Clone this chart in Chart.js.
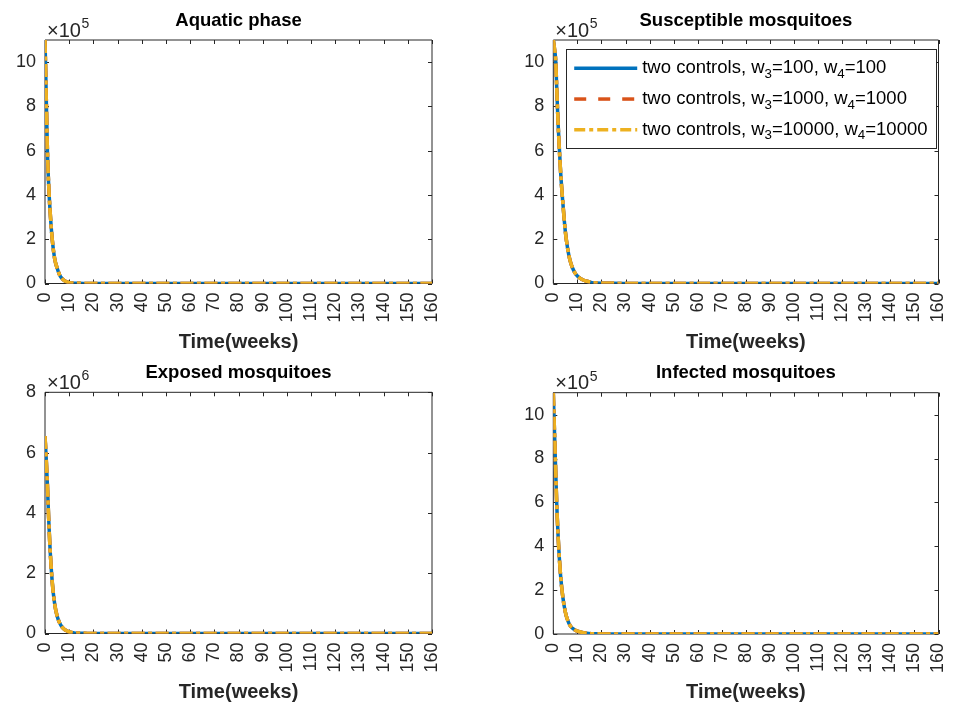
<!DOCTYPE html>
<html lang="en">
<head>
<meta charset="UTF-8">
<title>Two controls</title>
<script src="https://cdn.jsdelivr.net/npm/chart.js"></script>
<style>
  body { margin: 0; background: #fff; }
  #wrap { position: relative; width: 955px; height: 706px; }
  .cell { position: absolute; height: 353px; }
</style>
</head>
<body>
<div id="wrap">
  <div class="cell" style="left:0;top:0;width:477px"><canvas id="c1"></canvas></div>
  <div class="cell" style="left:477px;top:0;width:478px"><canvas id="c2"></canvas></div>
  <div class="cell" style="left:0;top:353px;width:477px"><canvas id="c3"></canvas></div>
  <div class="cell" style="left:477px;top:353px;width:478px"><canvas id="c4"></canvas></div>
</div>
<script>
// time in weeks
const weeks = [0, 0.5, 1, 1.5, 2, 3, 4, 5, 6, 7, 8, 9, 10, 12, 14, 16, 18, 20, 25, 30,
  40, 50, 60, 70, 80, 90, 100, 110, 120, 130, 140, 150, 160];

// values (the three control runs lie on top of each other)
// aquatic phase, x10^5
const aquatic = [11, 8.5, 6.0, 4.5, 3.45, 1.98, 1.12, 0.7, 0.4, 0.23, 0.13, 0.07, 0.04, 0.015, 0.008,
  0.005, 0.004, 0.003, 0.002, 0.002, 0.001, 0.001, 0.001, 0.001, 0, 0, 0, 0, 0, 0, 0, 0, 0];
// susceptible mosquitoes, x10^5
const susceptible = [11, 10.6, 10.06, 8.6, 7.2, 5.1, 3.6, 2.35, 1.55, 1.02, 0.7, 0.48, 0.34, 0.18, 0.1,
  0.04, 0.02, 0.012, 0.006, 0.004, 0.003, 0.002, 0.002, 0.001, 0.001, 0.001, 0, 0, 0, 0, 0, 0, 0];
// exposed mosquitoes, x10^6
const exposed = [6.55, 5.8, 4.92, 3.85, 2.95, 1.7, 0.98, 0.58, 0.36, 0.22, 0.14, 0.09, 0.05, 0.02, 0.01,
  0.005, 0.003, 0.002, 0.001, 0, 0, 0, 0, 0, 0, 0, 0, 0, 0, 0, 0, 0, 0];
// infected mosquitoes, x10^5
const infected = [11, 9.2, 7.4, 5.7, 4.45, 2.7, 1.65, 1.0, 0.62, 0.38, 0.26, 0.18, 0.13, 0.07, 0.03,
  0.015, 0.008, 0.005, 0.003, 0.002, 0.002, 0.001, 0.001, 0.001, 0, 0, 0, 0, 0, 0, 0, 0, 0];

const seriesLabels = [
  'two controls, w\u2083=100, w\u2084=100',
  'two controls, w\u2083=1000, w\u2084=1000',
  'two controls, w\u2083=10000, w\u2084=10000'
];
const seriesColors = ['#0072BD', '#D95319', '#EDB120'];
const dashDot = [13, 3.5, 4, 3.5];
const legendDash = [[], [12, 12], [11, 4, 4, 4]];
// on the curves the dashed run sits exactly under the dash-dot one
const curveDash = [[], dashDot, dashDot];

const FONT = '"Liberation Sans", Arial, Helvetica, sans-serif';
const INK = '#262626';
Chart.defaults.font.family = FONT;
Chart.defaults.color = INK;

const SUB = '\u2080\u2081\u2082\u2083\u2084\u2085\u2086\u2087\u2088\u2089';

// draws text with unicode subscript digits lowered and smaller, returns end x
function richText(ctx, text, x, y, size, draw) {
  for (const ch of text) {
    const k = SUB.indexOf(ch);
    const s = k >= 0 ? String(k) : ch;
    ctx.font = (k >= 0 ? size * 0.72 : size) + 'px ' + FONT;
    if (draw) ctx.fillText(s, x, k >= 0 ? y + size * 0.32 : y);
    x += ctx.measureText(s).width;
  }
  return x;
}

// matlab style box, inward ticks, exponent and legend
const matlabAxes = {
  id: 'matlabAxes',
  beforeDatasetsDraw(chart, args, opts) {
    const {ctx, chartArea: a} = chart;
    const xs = chart.scales.x, ys = chart.scales.y;
    ctx.save();
    ctx.strokeStyle = INK;
    ctx.lineWidth = 1;
    ctx.beginPath();
    ctx.rect(a.left, a.top, a.right - a.left, a.bottom - a.top);
    xs.ticks.forEach(t => {
      const px = Math.round(xs.getPixelForValue(t.value)) + 0.5;
      ctx.moveTo(px, a.bottom); ctx.lineTo(px, a.bottom - 4);
      ctx.moveTo(px, a.top); ctx.lineTo(px, a.top + 4);
    });
    ys.ticks.forEach(t => {
      const py = Math.round(ys.getPixelForValue(t.value)) + 0.5;
      ctx.moveTo(a.left, py); ctx.lineTo(a.left + 4, py);
      ctx.moveTo(a.right, py); ctx.lineTo(a.right - 4, py);
    });
    ctx.stroke();

    // x10^n
    ctx.fillStyle = INK;
    ctx.textBaseline = 'alphabetic';
    ctx.textAlign = 'left';
    ctx.font = '20px ' + FONT;
    ctx.fillText('\u00d710', a.left + 2, a.top - 3.3);
    const w = ctx.measureText('\u00d710').width;
    ctx.font = '14px ' + FONT;
    ctx.fillText(opts.exponent, a.left + 2 + w + 0.5, a.top - 12);
    ctx.restore();
  },
  afterDatasetsDraw(chart, args, opts) {
    if (!opts.legend) return;
    const {ctx, chartArea: a} = chart;
    const size = 18.5, rowH = 30.7, sample = 63;
    ctx.save();
    let tw = 0;
    chart.data.datasets.forEach(ds => { tw = Math.max(tw, richText(ctx, ds.label, 0, 0, size, false)); });
    const bw = 8 + sample + 5 + tw + 9;
    const bh = rowH * 3 + 7;
    const bx = a.right - 2 - bw, by = a.top + 8.5;
    ctx.fillStyle = '#fff';
    ctx.fillRect(bx, by, bw, bh);
    ctx.strokeStyle = INK;
    ctx.lineWidth = 1;
    ctx.strokeRect(Math.round(bx) + 0.5, Math.round(by) + 0.5, Math.round(bw), Math.round(bh));
    chart.data.datasets.forEach((ds, i) => {
      const cy = by + 4.5 + rowH * (i + 0.5);
      ctx.strokeStyle = ds.borderColor;
      ctx.lineWidth = ds.borderWidth;
      ctx.setLineDash(legendDash[i]);
      ctx.beginPath();
      ctx.moveTo(bx + 8, cy);
      ctx.lineTo(bx + 8 + sample, cy);
      ctx.stroke();
      ctx.setLineDash([]);
      ctx.fillStyle = '#000';
      ctx.textBaseline = 'middle';
      ctx.textAlign = 'left';
      richText(ctx, ds.label, bx + 8 + sample + 5, cy, size, true);
    });
    ctx.restore();
  }
};

function panel(id, title, values, yMax, exponent, showLegend, g) {
  const titleSize = 18.5, labelSize = 20, lh = 1.2;
  new Chart(document.getElementById(id), {
    type: 'line',
    data: {
      datasets: seriesLabels.map((lab, i) => ({
        label: lab,
        data: weeks.map((t, k) => ({x: t, y: values[k]})),
        borderColor: seriesColors[i],
        borderDash: curveDash[i],
        borderWidth: 3.5,
        order: seriesLabels.length - i,   // last series drawn on top
        pointRadius: 0,
        cubicInterpolationMode: 'monotone',
        fill: false
      }))
    },
    plugins: [matlabAxes],
    options: {
      responsive: true,
      maintainAspectRatio: false,
      animation: false,
      events: [],
      layout: {padding: {left: 0, top: 0, bottom: 0, right: g.W - g.right}},
      plugins: {
        legend: {display: false},
        tooltip: {enabled: false},
        title: {
          display: true,
          text: title,
          fullSize: false,
          color: '#000',
          font: {size: titleSize, weight: 'bold', lineHeight: lh},
          padding: {top: g.titleY - titleSize * lh / 2, bottom: g.top - g.titleY - titleSize * lh / 2}
        },
        matlabAxes: {exponent: exponent, legend: showLegend}
      },
      scales: {
        x: {
          type: 'linear',
          min: 0, max: 160,
          grid: {display: false, drawTicks: false, tickLength: 0},
          border: {display: false},
          ticks: {stepSize: 10, autoSkip: false, minRotation: 90, maxRotation: 90,
            padding: 9, font: {size: 18}, color: INK},
          title: {display: true, text: 'Time(weeks)', color: INK,
            font: {size: labelSize, weight: 'bold', lineHeight: lh},
            padding: {top: 0, bottom: g.H - g.labelY - labelSize * lh / 2}},
          afterFit: s => { s.height = g.H - g.bottom; s.paddingLeft = 0; s.paddingRight = 0; }
        },
        y: {
          min: 0, max: yMax,
          grid: {display: false, drawTicks: false, tickLength: 0},
          border: {display: false},
          ticks: {stepSize: 2, includeBounds: false, padding: 9, font: {size: 18}, color: INK},
          afterFit: s => { s.width = g.left; s.paddingTop = 0; s.paddingBottom = 0; }
        }
      }
    }
  });
}

panel('c1', 'Aquatic phase', aquatic, 11, '5', false,
  {W: 477, H: 353, left: 45, right: 432, top: 40, bottom: 283.5, titleY: 20.5, labelY: 342});
panel('c2', 'Susceptible mosquitoes', susceptible, 11, '5', true,
  {W: 478, H: 353, left: 76.3, right: 461.5, top: 40, bottom: 283.5, titleY: 20.5, labelY: 342});
panel('c3', 'Exposed mosquitoes', exposed, 8, '6', false,
  {W: 477, H: 353, left: 45, right: 432, top: 39.3, bottom: 280.5, titleY: 20, labelY: 339.5});
panel('c4', 'Infected mosquitoes', infected, 11, '5', false,
  {W: 478, H: 353, left: 76.3, right: 461.5, top: 39.7, bottom: 281, titleY: 20, labelY: 339.5});
</script>
</body>
</html>
